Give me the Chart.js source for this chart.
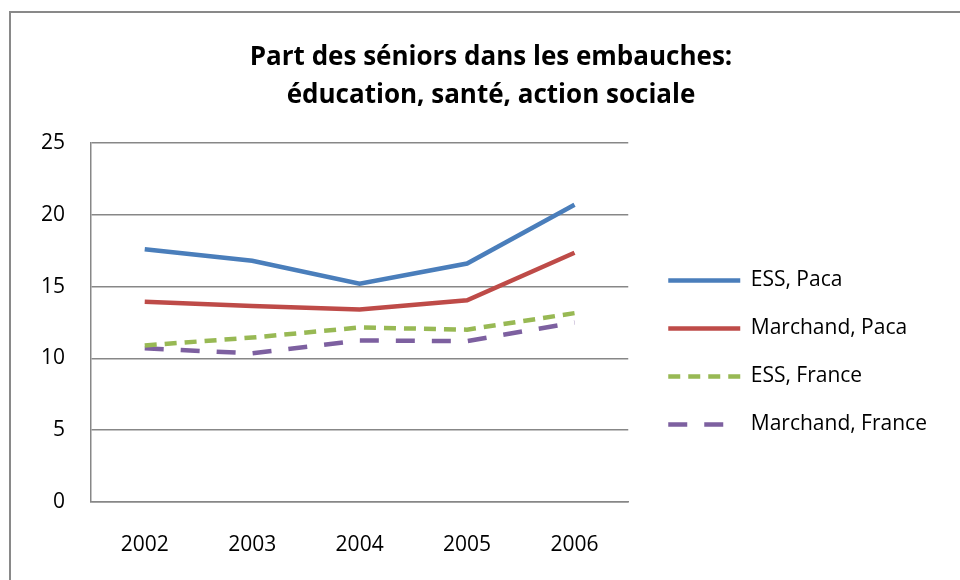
<!DOCTYPE html>
<html lang="fr">
<head>
<meta charset="utf-8">
<title>Part des séniors dans les embauches</title>
<script src="https://cdn.jsdelivr.net/npm/chart.js@4.4.1/dist/chart.umd.min.js"></script>
<style>
  html, body { margin: 0; padding: 0; background: #fff; overflow: hidden; }
  #cadre {
    position: absolute; left: 9px; top: 11px; right: -10px; bottom: -10px;
    border-left: 2px solid #898989; border-top: 2px solid #898989;
    pointer-events: none;
  }
  canvas { position: absolute; left: 0; top: 0; }
</style>
</head>
<body>
<canvas id="canvas" width="960" height="580"></canvas>
<div id="cadre"></div>
<script>
// années en abscisse
var annees = ["2002", "2003", "2004", "2005", "2006"];

// part des séniors (%) par secteur et territoire
var essPaca        = [17.6, 16.8, 15.2, 16.6, 20.7];
var marchandPaca   = [13.95, 13.65, 13.4, 14.05, 17.35];
var essFrance      = [10.9, 11.45, 12.15, 12.0, 13.15];
var marchandFrance = [10.7, 10.35, 11.25, 11.2, 12.5];

// graduations de l'axe vertical
var yMin = 0, yMax = 25, yPas = 5;

var police = "'Open Sans', Lato, sans-serif";

// la légende est placée à droite du graphique, le titre recentré sur le cadre
var placement = {
    id: 'placement',
    afterLayout: function(chart) {
        var l = chart.legend;
        var dx = chart.chartArea.right + 13 - l.left;
        var dy = 30;
        l.left += dx; l.right = chart.width;
        l.top += dy; l.bottom += dy;
        var t = chart.titleBlock;
        if (t) {
            var w = t.right - t.left;
            var centre = 491;
            t.left = centre - w / 2; t.right = centre + w / 2;
        }
    }
};

window.onload = function(){
    var ctx = document.getElementById("canvas").getContext("2d");
    window.myLine = new Chart(ctx, {
        type: 'line',
        data: {
            labels: annees,
            datasets: [
                {
                    label: "ESS, Paca",
                    data: essPaca,
                    borderColor: '#4a7ebb',
                    backgroundColor: '#4a7ebb',
                    borderWidth: 4.5
                },
                {
                    label: "Marchand, Paca",
                    data: marchandPaca,
                    borderColor: '#be4b48',
                    backgroundColor: '#be4b48',
                    borderWidth: 4.5
                },
                {
                    label: "ESS, France",
                    data: essFrance,
                    borderColor: '#98b954',
                    backgroundColor: '#98b954',
                    borderWidth: 4.5,
                    borderDash: [12, 8]
                },
                {
                    label: "Marchand, France",
                    data: marchandFrance,
                    borderColor: '#7d60a0',
                    backgroundColor: '#7d60a0',
                    borderWidth: 4.5,
                    borderDash: [19, 17]
                }
            ]
        },
        options: {
            responsive: false,
            animation: false,
            layout: { padding: { top: 29, left: 41, right: 136, bottom: 23 } },
            elements: {
                point: { radius: 0, hoverRadius: 0 },
                line: { tension: 0, fill: false }
            },
            plugins: {
                title: {
                    display: true,
                    text: ["Part des séniors dans les embauches:", "éducation, santé, action sociale"],
                    color: '#000',
                    font: { family: police, weight: 'bold', size: 26, lineHeight: 1.46 },
                    padding: { top: 10, bottom: 28 }
                },
                legend: {
                    position: 'right',
                    fullSize: false,
                    labels: {
                        usePointStyle: true,
                        pointStyle: 'line',
                        pointStyleWidth: 72,
                        padding: 27,
                        color: '#000',
                        font: { family: police, size: 21 },
                        generateLabels: function(chart) {
                            var items = Chart.defaults.plugins.legend.labels.generateLabels(chart);
                            items.forEach(function(it) {
                                var ds = chart.data.datasets[it.datasetIndex];
                                it.lineDash = ds.borderDash || [];
                                it.lineWidth = ds.borderWidth;
                                it.strokeStyle = ds.borderColor;
                            });
                            return items;
                        }
                    }
                },
                tooltip: { enabled: false }
            },
            scales: {
                x: {
                    offset: true,
                    grid: { display: false, drawTicks: false },
                    border: { display: true, color: '#878787', width: 1.5 },
                    ticks: { color: '#000', padding: 30, font: { family: police, size: 21 } },
                    afterFit: function(scale) { scale.height = 55; }
                },
                y: {
                    min: yMin,
                    max: yMax,
                    grid: { color: '#878787', lineWidth: 1.5, drawTicks: false },
                    border: { display: true, color: '#878787', width: 1.5 },
                    ticks: { stepSize: yPas, color: '#000', padding: 26, font: { family: police, size: 21 } },
                    afterFit: function(scale) { scale.width = 50; }
                }
            }
        },
        plugins: [placement]
    });
};
</script>
</body>
</html>
